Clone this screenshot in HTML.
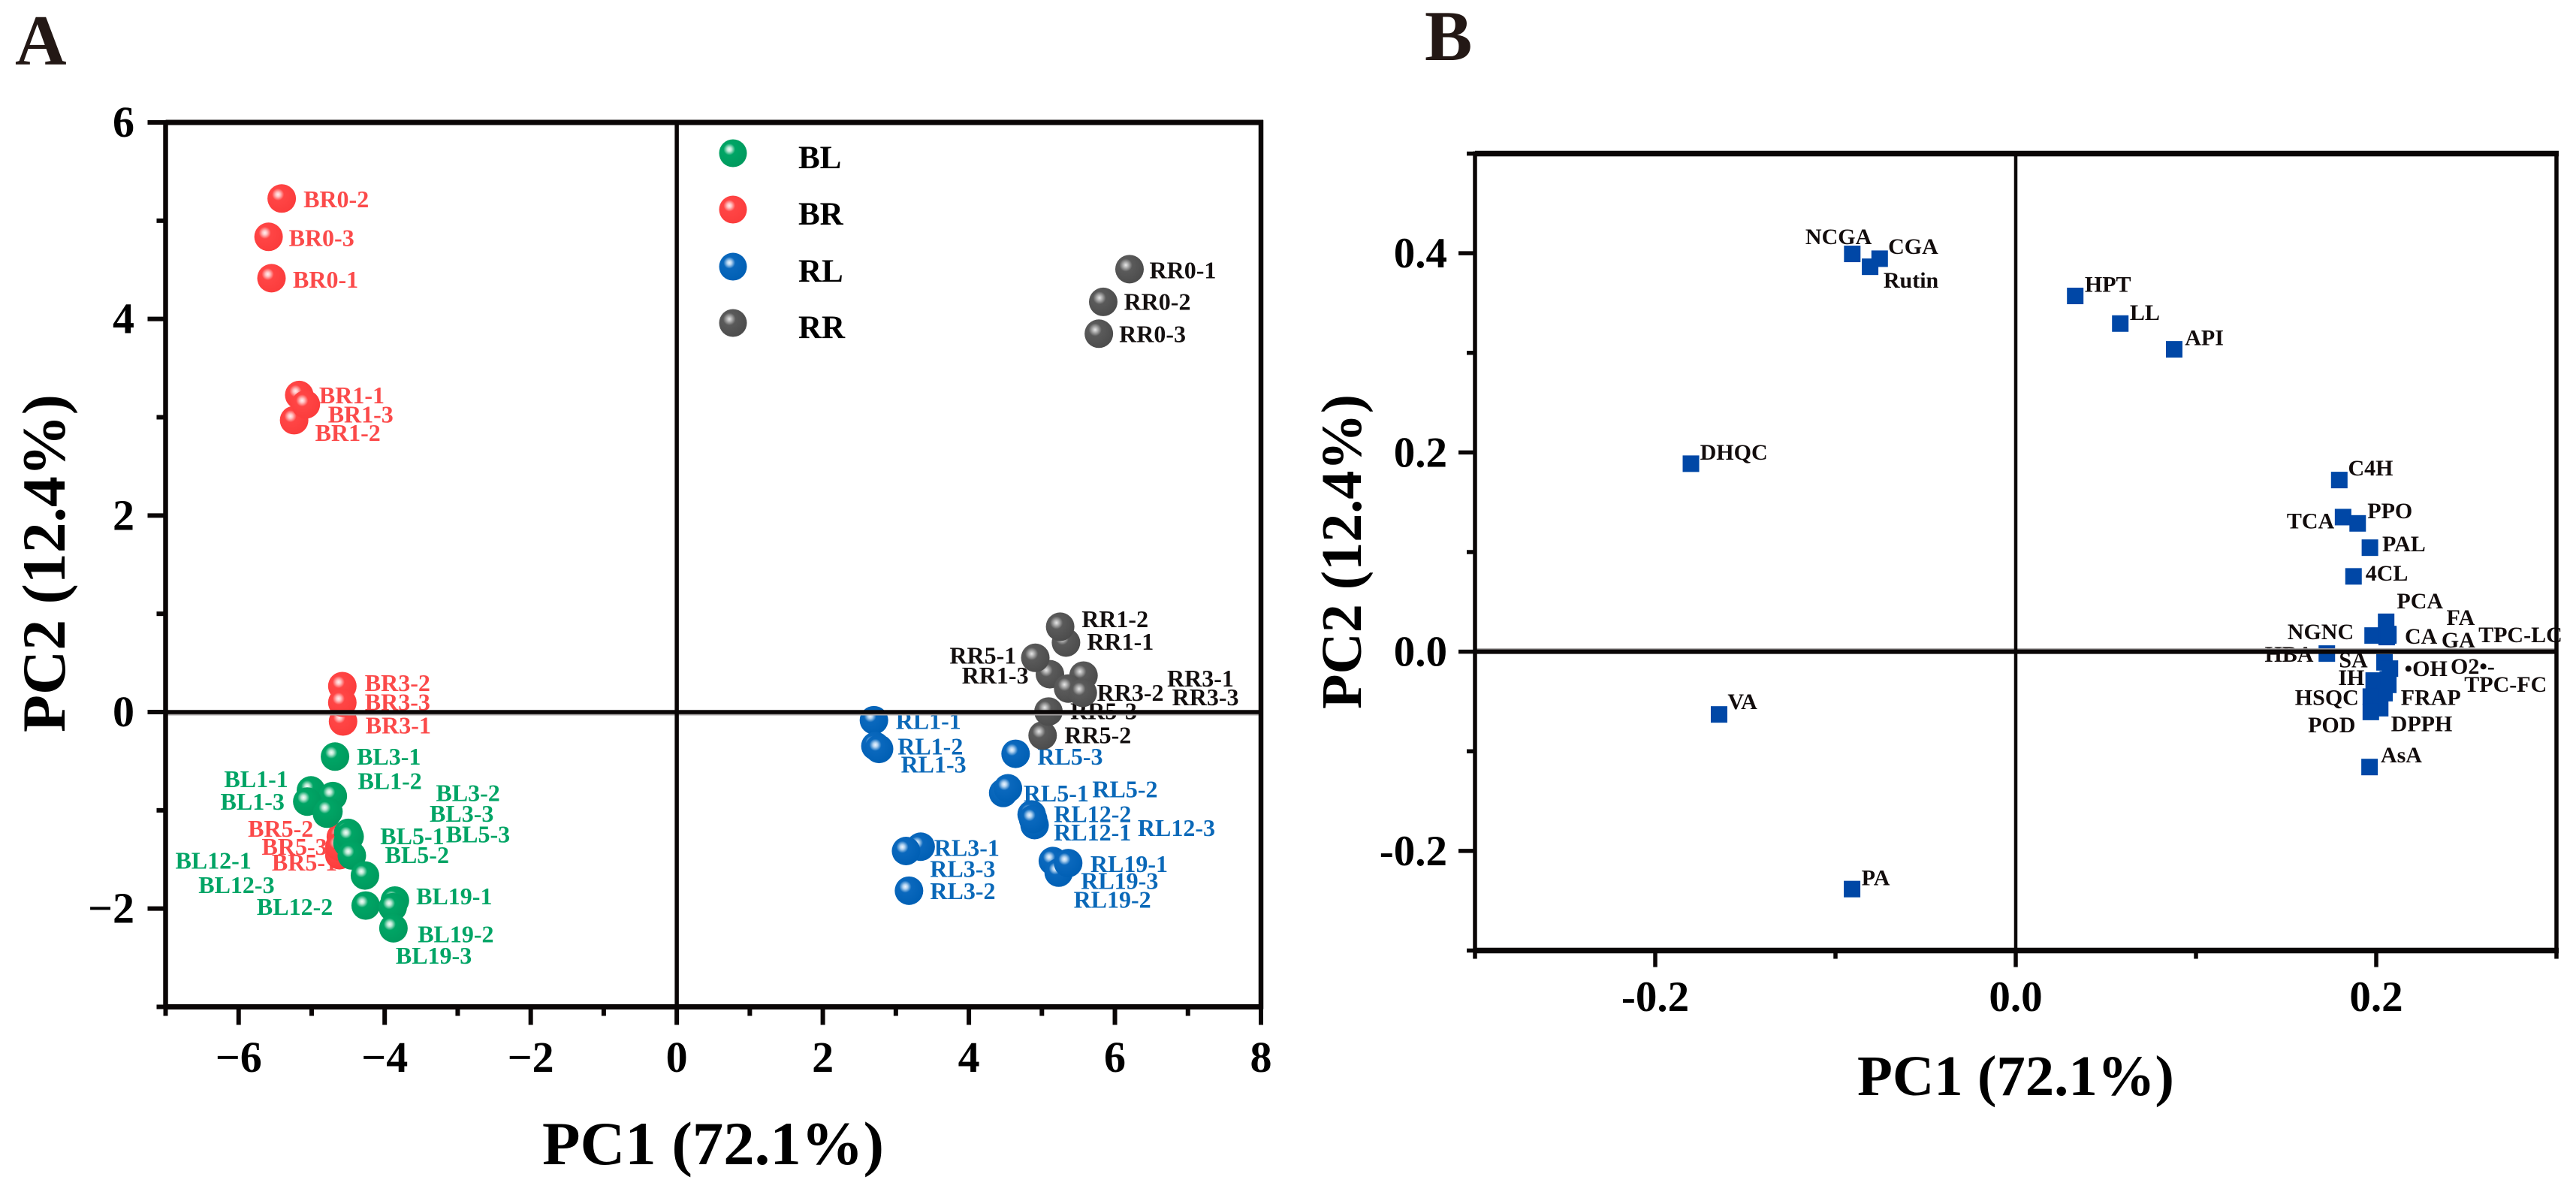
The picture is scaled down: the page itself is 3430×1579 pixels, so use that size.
<!DOCTYPE html>
<html lang="en">
<head>
<meta charset="utf-8">
<title>PCA score and loading plots</title>
<style>
  html, body { margin: 0; padding: 0; background: #fff; }
  body { width: 3430px; height: 1579px; overflow: hidden; }
  svg { display: block; }
  text { font-family: "Liberation Serif", "DejaVu Serif", serif; font-weight: bold; fill: #000; }
</style>
</head>
<body>
<svg id="figure" xmlns="http://www.w3.org/2000/svg" width="3430" height="1579" viewBox="0 0 3430 1579">
  <defs>
    <radialGradient id="sphere-green" cx="0.37" cy="0.36" r="0.66">
      <stop offset="0" stop-color="#f4fffa"/><stop offset="0.12" stop-color="#bfe8d6"/><stop offset="0.32" stop-color="#00a565"/><stop offset="1" stop-color="#009a5e"/>
    </radialGradient>
    <radialGradient id="sphere-red" cx="0.37" cy="0.36" r="0.66">
      <stop offset="0" stop-color="#fff0f0"/><stop offset="0.12" stop-color="#ffc4c4"/><stop offset="0.32" stop-color="#ff4545"/><stop offset="1" stop-color="#fb3c3c"/>
    </radialGradient>
    <radialGradient id="sphere-blue" cx="0.37" cy="0.36" r="0.66">
      <stop offset="0" stop-color="#eef6ff"/><stop offset="0.12" stop-color="#b5d4f0"/><stop offset="0.32" stop-color="#0a68bd"/><stop offset="1" stop-color="#005fb4"/>
    </radialGradient>
    <radialGradient id="sphere-dark" cx="0.37" cy="0.36" r="0.66">
      <stop offset="0" stop-color="#e8e8e8"/><stop offset="0.12" stop-color="#b8b8b8"/><stop offset="0.34" stop-color="#5a5a5a"/><stop offset="1" stop-color="#4c4c4c"/>
    </radialGradient>
  </defs>

  <text x="20" y="86" font-size="95" style="fill:#231815">A</text>
  <text x="1897" y="80" font-size="95" style="fill:#231815">B</text>

  <g id="panel-a">
    <g id="a-marks"></g>
    <g id="a-axes"></g>
    <g>
      <g>
        <circle cx="976" cy="204" r="18.5" fill="url(#sphere-green)"/>
        <text x="1063" y="224" font-size="43">BL</text>
      </g>
      <g>
        <circle cx="976" cy="279" r="18.5" fill="url(#sphere-red)"/>
        <text x="1063" y="299" font-size="43">BR</text>
      </g>
      <g>
        <circle cx="976" cy="355" r="18.5" fill="url(#sphere-blue)"/>
        <text x="1063" y="375" font-size="43">RL</text>
      </g>
      <g>
        <circle cx="976" cy="430" r="18.5" fill="url(#sphere-dark)"/>
        <text x="1063" y="450" font-size="43">RR</text>
      </g>
    </g>
    <text x="722" y="1550" font-size="82" textLength="455" lengthAdjust="spacingAndGlyphs">PC1 (72.1%)</text>
    <text transform="translate(86 975) rotate(-90)" font-size="82" textLength="450" lengthAdjust="spacingAndGlyphs">PC2 (12.4%)</text>
  </g>

  <g id="panel-b">
    <g id="b-marks"></g>
    <g id="b-axes"></g>
    <text x="2473" y="1458" font-size="76" textLength="422" lengthAdjust="spacingAndGlyphs">PC1 (72.1%)</text>
    <text transform="translate(1812 944) rotate(-90)" font-size="76" textLength="419" lengthAdjust="spacingAndGlyphs">PC2 (12.4%)</text>
  </g>
</svg>

<script>
// ---- Panel A data: sample scores ----
const brNames = ['BR0-1','BR0-2','BR0-3','BR1-1','BR1-2','BR1-3','BR3-1','BR3-2','BR3-3','BR5-1','BR5-2','BR5-3'];
const brPc1 = [-5.55,-5.41,-5.59,-5.17,-5.24,-5.08,-4.57,-4.58,-4.58,-4.62,-4.60,-4.62];
const brPc2 = [4.415,5.226,4.836,3.226,2.97,3.13,-0.096,0.264,0.096,-1.457,-1.27,-1.37];

const blNames = ['BL1-1','BL1-2','BL1-3','BL3-1','BL3-2','BL3-3','BL5-1','BL5-2','BL5-3','BL12-1','BL12-2','BL12-3','BL19-1','BL19-2','BL19-3'];
const blPc1 = [-5.01,-4.71,-5.06,-4.68,-4.79,-4.77,-4.50,-4.51,-4.48,-4.45,-4.26,-4.27,-3.86,-3.89,-3.88];
const blPc2 = [-0.797,-0.855,-0.911,-0.453,-1.034,-1.013,-1.23,-1.332,-1.268,-1.459,-1.969,-1.663,-1.918,-1.986,-2.2];

const rlNames = ['RL1-1','RL1-2','RL1-3','RL3-1','RL3-2','RL3-3','RL5-1','RL5-2','RL5-3','RL12-1','RL12-2','RL12-3','RL19-1','RL19-2','RL19-3'];
const rlPc1 = [2.70,2.72,2.77,3.34,3.18,3.14,4.47,4.535,4.64,4.90,4.86,4.88,5.15,5.23,5.36];
const rlPc2 = [-0.083,-0.346,-0.375,-1.37,-1.818,-1.414,-0.823,-0.776,-0.425,-1.15,-1.042,-1.09,-1.516,-1.634,-1.537];

const rrNames = ['RR0-1','RR0-2','RR0-3','RR1-1','RR1-2','RR1-3','RR3-1','RR3-2','RR3-3','RR5-1','RR5-2','RR5-3'];
const rrPc1 = [6.20,5.84,5.78,5.33,5.25,5.11,5.57,5.36,5.56,4.91,5.01,5.09];
const rrPc2 = [4.507,4.174,3.85,0.707,0.868,0.385,0.371,0.239,0.195,0.552,-0.238,0.005];

const aXTicks = [-6,-4,-2,0,2,4,6,8];
const aXTickLabels = ['\u22126','\u22124','\u22122','0','2','4','6','8'];
const aXMinor = [-7,-5,-3,-1,1,3,5,7];
const aYTicks = [-2,0,2,4,6];
const aYTickLabels = ['\u22122','0','2','4','6'];
const aYMinor = [-3,-1,1,3,5];

// ---- Panel B data: variable loadings ----
const loadingNames = ['NCGA','CGA','Rutin','DHQC','HPT','LL','API','C4H','TCA','PPO','PAL','4CL','PCA','NGNC','FA','CA','GA','TPC-LC','HBA','SA','\u2022OH','O2\u2022-','IH','TPC-FC','FRAP','HSQC','DPPH','POD','AsA','VA','PA'];
const loadingPc1 = [-0.0907,-0.0755,-0.0808,-0.1802,0.0330,0.0580,0.0879,0.1795,0.1816,0.1897,0.1965,0.1874,0.2055,0.1980,0.2067,0.2067,0.2058,0.2067,0.1726,0.2046,0.2076,0.2064,0.1986,0.2067,0.2046,0.1970,0.2022,0.1970,0.1963,-0.1646,-0.0908];
const loadingPc2 = [0.3993,0.3945,0.3864,0.1887,0.3571,0.3294,0.3035,0.1723,0.1351,0.1288,0.1044,0.0756,0.0300,0.0162,0.0177,0.0162,0.0147,0.0170,-0.0019,-0.0107,-0.0170,-0.0278,-0.0290,-0.0333,-0.0416,-0.0451,-0.0567,-0.0605,-0.1158,-0.0630,-0.2383];

const bXTicks = [-0.2,0,0.2];
const bXTickLabels = ['-0.2','0.0','0.2'];
const bXMinor = [-0.3,-0.1,0.1,0.3];
const bYTicks = [-0.2,0,0.2,0.4];
const bYTickLabels = ['-0.2','0.0','0.2','0.4'];
const bYMinor = [-0.3,-0.1,0.1,0.3,0.5];

// ---- Label placement, relative to each mark (layout only) ----
const brLabelDx = [28.5,29,27,26.5,28,29.5,30,30,30,-90,-123.7,-103.4];
const brLabelDy = [12.6,11.5,12,11.2,27.7,24,16,6.3,10,20.3,0,10.6];
const blLabelDx = [-115.6,33.3,-115.6,29,145,134.7,42.7,50,128.3,-235,-145,-221.7,28.3,33.3,3];
const blLabelDy = [-4.4,-9.3,11,10.6,-17,13.3,15,26.6,7.4,17.4,12.3,23.3,5,46.7,47];
const rlLabelDx = [29,29.6,29.1,17.9,28.1,31.8,27,112.3,29.1,25.6,29.6,139.3,50,19.9,16.9];
const rlLabelDy = [11.5,11.4,31.4,12.3,11.1,34.4,11.1,11.9,14.5,20.3,10.4,22.5,14.6,46.6,34.5];
const rrLabelDx = [26.5,27.6,27,28,28.6,-117.3,111.3,38.3,118.9,-114.2,29.1,29.1];
const rrLabelDy = [12,10.5,11,9.6,0.7,12.2,14.5,16.5,16.4,7.6,10.3,10.4];
const loadingLabelDx = [-62.4,11.3,17.8,12.1,12.7,12.7,14.3,11.7,-75,13,16.4,16,14.2,-113.4,77.4,21.9,72.9,120,-82.8,-60.7,19.4,83.7,-47.3,101.2,21.7,-101,14.4,-83.7,14.8,11.4,12.6];
const loadingLabelDy = [-13.3,-6.6,27.6,-5.3,-5.7,-4.7,-5.7,-6.3,15,-6.7,5,5.4,-17.7,4.7,-12.3,10.7,13.7,10,11,6.6,10,-7.3,5.7,9,15.6,11,30.6,27.3,-6,-7,-5];

const SVG_NS = 'http://www.w3.org/2000/svg';
function make(tag, parent, attrs) {
  const node = document.createElementNS(SVG_NS, tag);
  for (const key in attrs) node.setAttribute(key, attrs[key]);
  parent.appendChild(node);
  return node;
}
function linearScale(d0, d1, r0, r1) {
  return function (v) { return r0 + (v - d0) / (d1 - d0) * (r1 - r0); };
}
function slug(s) {
  return s.toLowerCase().replace(/[^a-z0-9]+/g, '-').replace(/^-|-$/g, '');
}

// Axis functions
const axA = linearScale(-7, 8, 220.5, 1679);
const ayA = linearScale(-3, 6, 1340.5, 163);
const axB = linearScale(-0.3, 0.3, 1964, 3404);
const ayB = linearScale(-0.3, 0.5, 1265.5, 204.5);

function drawFrame(host, cfg) {
  const sx = cfg.sx, sy = cfg.sy;
  const left = sx(cfg.xDomain[0]), right = sx(cfg.xDomain[1]);
  const top = sy(cfg.yDomain[1]), bottom = sy(cfg.yDomain[0]);
  const black = '#0a0606';

  const zeroShadow = make('line', host, { x1: left, x2: right, y1: sy(0) + cfg.shadowOffset, y2: sy(0) + cfg.shadowOffset, stroke: '#a8a4a4', 'stroke-width': 2 });
  
  
  const zeroH = make('line', host, { x1: left, x2: right, y1: sy(0), y2: sy(0), stroke: black, 'stroke-width': cfg.zeroH });
  
  
  const zeroV = make('line', host, { x1: sx(0), x2: sx(0), y1: top, y2: bottom, stroke: black, 'stroke-width': cfg.zeroV });
  
  

  const leftAxis = make('line', host, { x1: left, x2: left, y1: top - 3, y2: bottom + 3, stroke: black, 'stroke-width': cfg.side });
  
  
  const rightAxis = make('line', host, { x1: right, x2: right, y1: top - 3, y2: bottom + 3, stroke: black, 'stroke-width': cfg.side });
  
  
  const topAxis = make('line', host, { x1: left, x2: right + 3, y1: top, y2: top, stroke: black, 'stroke-width': cfg.horiz });
  
  
  const bottomAxis = make('line', host, { x1: left, x2: right + 3, y1: bottom, y2: bottom, stroke: black, 'stroke-width': cfg.horiz });
  
  

  cfg.xTicks.forEach(function (v, i) {
    const tick = make('line', host, { x1: sx(v), x2: sx(v), y1: bottom, y2: bottom + cfg.major, stroke: black, 'stroke-width': cfg.tick });
    
    
    const label = make('text', host, { x: sx(v), y: cfg.xLabelY, 'font-size': cfg.tickFont, 'text-anchor': 'middle' });
    label.textContent = cfg.xLabels[i];
    
    
  });
  cfg.xMinor.forEach(function (v) {
    const tick = make('line', host, { x1: sx(v), x2: sx(v), y1: bottom, y2: bottom + cfg.minor, stroke: black, 'stroke-width': cfg.tick });
    
    
  });
  cfg.yTicks.forEach(function (v, i) {
    const tick = make('line', host, { x1: left - cfg.major, x2: left, y1: sy(v), y2: sy(v), stroke: black, 'stroke-width': cfg.tick });
    
    
    const label = make('text', host, { x: cfg.yLabelX, y: sy(v) + 19, 'font-size': cfg.tickFont, 'text-anchor': 'end' });
    label.textContent = cfg.yLabels[i];
    
    
  });
  cfg.yMinor.forEach(function (v) {
    const tick = make('line', host, { x1: left - cfg.minor, x2: left, y1: sy(v), y2: sy(v), stroke: black, 'stroke-width': cfg.tick });
    
    
  });
}

function drawSpheres(host, names, xs, ys, dxs, dys, gradient, color) {
  const g = make('g', host, {});
  
  
  names.forEach(function (name, i) {
    const label = make('text', g, { x: axA(xs[i]) + dxs[i], y: ayA(ys[i]) + dys[i], 'font-size': 32, style: 'fill:' + color });
    label.textContent = name;
    
    
  });
  names.forEach(function (name, i) {
    const dot = make('circle', g, { cx: axA(xs[i]), cy: ayA(ys[i]), r: 19, fill: 'url(#' + gradient + ')' });
    
    
  });
}

const aMarks = document.getElementById('a-marks');
drawSpheres(aMarks, brNames, brPc1, brPc2, brLabelDx, brLabelDy, 'sphere-red', '#fb4a4a');
drawSpheres(aMarks, blNames, blPc1, blPc2, blLabelDx, blLabelDy, 'sphere-green', '#00a465');
drawSpheres(aMarks, rlNames, rlPc1, rlPc2, rlLabelDx, rlLabelDy, 'sphere-blue', '#0a68b8');
drawSpheres(aMarks, rrNames, rrPc1, rrPc2, rrLabelDx, rrLabelDy, 'sphere-dark', '#141010');

drawFrame(document.getElementById('a-axes'), {
  sx: axA, sy: ayA, xDomain: [-7, 8], yDomain: [-3, 6],
  xTicks: aXTicks, xLabels: aXTickLabels, xMinor: aXMinor,
  yTicks: aYTicks, yLabels: aYTickLabels, yMinor: aYMinor,
  zeroH: 5.5, zeroV: 5.5, side: 6.5, horiz: 7, tick: 6, major: 24, minor: 12,
  shadowOffset: 3.5, tickFont: 58, xLabelY: 1427, yLabelX: 179
});

const bMarks = document.getElementById('b-marks');
loadingNames.forEach(function (name, i) {
  const label = make('text', bMarks, { x: axB(loadingPc1[i]) + loadingLabelDx[i], y: ayB(loadingPc2[i]) + loadingLabelDy[i], 'font-size': 30, style: 'fill:#120c0c' });
  label.textContent = name;
  
  
});
loadingNames.forEach(function (name, i) {
  const mark = make('rect', bMarks, { x: axB(loadingPc1[i]) - 11, y: ayB(loadingPc2[i]) - 11, width: 22, height: 22, fill: '#0047a6' });
  
  
});

drawFrame(document.getElementById('b-axes'), {
  sx: axB, sy: ayB, xDomain: [-0.3, 0.3], yDomain: [-0.3, 0.5],
  xTicks: bXTicks, xLabels: bXTickLabels, xMinor: bXMinor,
  yTicks: bYTicks, yLabels: bYTickLabels, yMinor: bYMinor,
  zeroH: 6, zeroV: 4.5, side: 5.5, horiz: 7.5, tick: 5.5, major: 22, minor: 11,
  shadowOffset: -3.5, tickFont: 57, xLabelY: 1346, yLabelX: 1927
});
</script>
</body>
</html>
